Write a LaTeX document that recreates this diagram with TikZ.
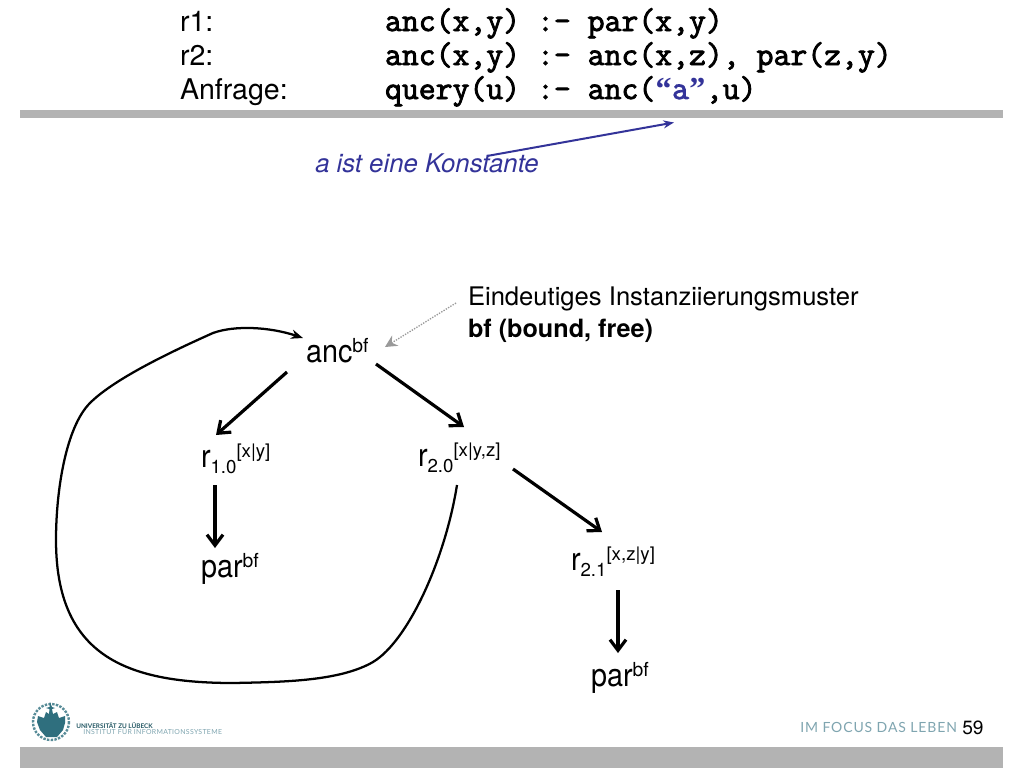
\documentclass[tikz,border=0pt]{standalone}
\usepackage{fontspec}
\setmainfont{TeX Gyre Heros}
\newfontfamily\gfont{TeX Gyre Heros}[FakeStretch=0.9]
\newfontfamily\qfont{Liberation Serif}
\newfontfamily\codef{Latin Modern Mono}[FakeBold=2.6]
\newfontfamily\focf{Lato}[LetterSpace=6.2]
\newfontfamily\unia{Lato}[LetterSpace=0]
\newfontfamily\unib{Lato}[LetterSpace=4.5]
\usetikzlibrary{arrows.meta}
\definecolor{barg}{HTML}{B3B3B3}
\definecolor{navy}{HTML}{333399}
\definecolor{logot}{HTML}{2F6F7E}
\definecolor{slog}{HTML}{7FA5B0}
\newcommand{\fsz}[1]{\fontsize{#1}{#1}\selectfont}
\newcommand{\subsup}[2]{\raisebox{-4.5pt}{\rmfamily\fsz{14}#1}\raisebox{7.2pt}{\rmfamily\fsz{14}#2}}
\newcommand{\supr}[1]{\raisebox{7.4pt}{\rmfamily\fsz{14.5}#1}}
\newcommand{\qm}[1]{\makebox[12.62pt]{\qfont\bfseries\fsz{24}#1}}
\tikzset{
  lbl/.style={inner sep=0pt,outer sep=0pt,anchor=base west,font=\fsz{21.4}},
  glbl/.style={inner sep=0pt,outer sep=0pt,anchor=base west,font=\gfont\fsz{24}},
  codel/.style={inner sep=0pt,outer sep=0pt,anchor=base west,font=\codef\fsz{24.6}},
  notel/.style={inner sep=0pt,outer sep=0pt,anchor=base west,font=\fsz{19.2}},
  edgeb/.style={line width=2.4pt,-{Straight Barb[length=8pt,width=12pt,line width=2.4pt]}},
  loopb/.style={line width=1.7pt,-{Stealth[length=9pt,width=7pt]}},
  bar/.style={fill=barg,draw=none}
}
\begin{document}
\begin{tikzpicture}[x=0.75pt,y=-0.75pt]
\useasboundingbox (0,0) rectangle (1024,768);
\fill[white] (0,0) rectangle (1024,768);
\path[bar] (20,110) rectangle (1003,118);
\path[bar] (20,747) rectangle (1003,768);
% rules
\node[lbl] (l1) at (180,31) {r1:};
\node[lbl] (l2) at (180,65) {r2:};
\node[lbl] (l3) at (180,99) {Anfrage:};
\node[codel] (c1) at (385,31) {anc(x,y) :- par(x,y)};
\node[codel] (c2) at (385,65) {anc(x,y) :- anc(x,z), par(z,y)};
\node[codel] (c3) at (385,99) {query(u) :- anc(\textcolor{navy}{\qm{“}a\qm{”}},u)};
\node[inner sep=0pt,anchor=base west,font=\fsz{19.3}\itshape,text=navy] (konst) at (315,172) {a ist eine Konstante};
\coordinate (quote) at (674,122.5);
\draw[navy,line width=1.5pt,-{Stealth[length=8pt,width=6pt]}] ([shift={(172,-16)}]konst.base west) -- (quote);
% graph
\node[notel] (n1) at (468,305) {Eindeutiges Instanziierungsmuster};
\node[notel,font=\fsz{18.9}\bfseries] (n2) at (468,337) {bf (bound, free)};
\node[glbl] (anc) at (306,362) {anc\supr{bf}};
\node[glbl] (r10) at (201,467) {r\subsup{1.0}{[x|y]}};
\node[glbl] (r20) at (418,466) {r\subsup{2.0}{[x|y,z]}};
\node[glbl] (par1) at (201,577) {par\supr{bf}};
\node[glbl] (r21) at (571,570) {r\subsup{2.1}{[x,z|y]}};
\node[glbl] (par2) at (591,686) {par\supr{bf}};
\draw[black!40,densely dotted,line width=1pt,-{Stealth[length=9pt,width=9pt]}] ([shift={(-12,-2)}]n1.base west) -- ([shift={(79,-15)}]anc.base west);
\draw[edgeb] ([shift={(-19,10)}]anc.base west) -- ([shift={(15,-32)}]r10.base west);
\draw[edgeb] ([shift={(70,2)}]anc.base west) -- ([shift={(46,-39)}]r20.base west);
\draw[edgeb] ([shift={(14,18)}]r10.base west) -- ([shift={(14,-29)}]par1.base west);
\draw[edgeb] ([shift={(95,3)}]r20.base west) -- ([shift={(31,-38)}]r21.base west);
\draw[edgeb] ([shift={(47,20)}]r21.base west) -- ([shift={(27,-33)}]par2.base west);
\draw[loopb] ([shift={(39,19)}]r20.base west)
  .. controls (445,560) and (408,641) .. (373,662)
  .. controls (340,681) and (285,682) .. (233,683)
  .. controls (125,683) and (56,655) .. (56,540)
  .. controls (56,490) and (66,427) .. (90,403)
  .. controls (115,378) and (175,350) .. (213,333)
  .. controls (235,325) and (270,327) .. ([shift={(-3,-24)}]anc.base west);
% footer
\draw[logot!80!white,densely dotted,line width=1.8pt] (51,722) circle (18);
\fill[logot] (37,722) -- (38,716) -- (44,718) -- (46,712) -- (49,714) -- (49.5,709) -- (46,708) -- (49.5,707) -- (50,702) -- (52,707) -- (55,708) -- (52,709) -- (53,714) -- (57,712) -- (59,718) -- (65,716) -- (65,723) -- (63,730) -- (57,737) -- (46,737) -- (40,730) -- cycle;
\node[inner sep=0pt,anchor=base west,font=\unia\fsz{4.8}\bfseries,text=logot!80!black] (u1) at (76,728) {UNIVERSITÄT ZU LÜBECK};
\node[inner sep=0pt,anchor=base west,font=\unib\fsz{5.2},text=slog] (u2) at (83,734.5) {INSTITUT FÜR INFORMATIONSSYSTEME};
\node[inner sep=0pt,anchor=base west,font=\focf\fsz{10.5},text=slog] (foc) at (800,732) {IM FOCUS DAS LEBEN};
\node[inner sep=0pt,anchor=base west,font=\fsz{14.4}] (pg) at (962,734) {59};
\end{tikzpicture}
\end{document}
